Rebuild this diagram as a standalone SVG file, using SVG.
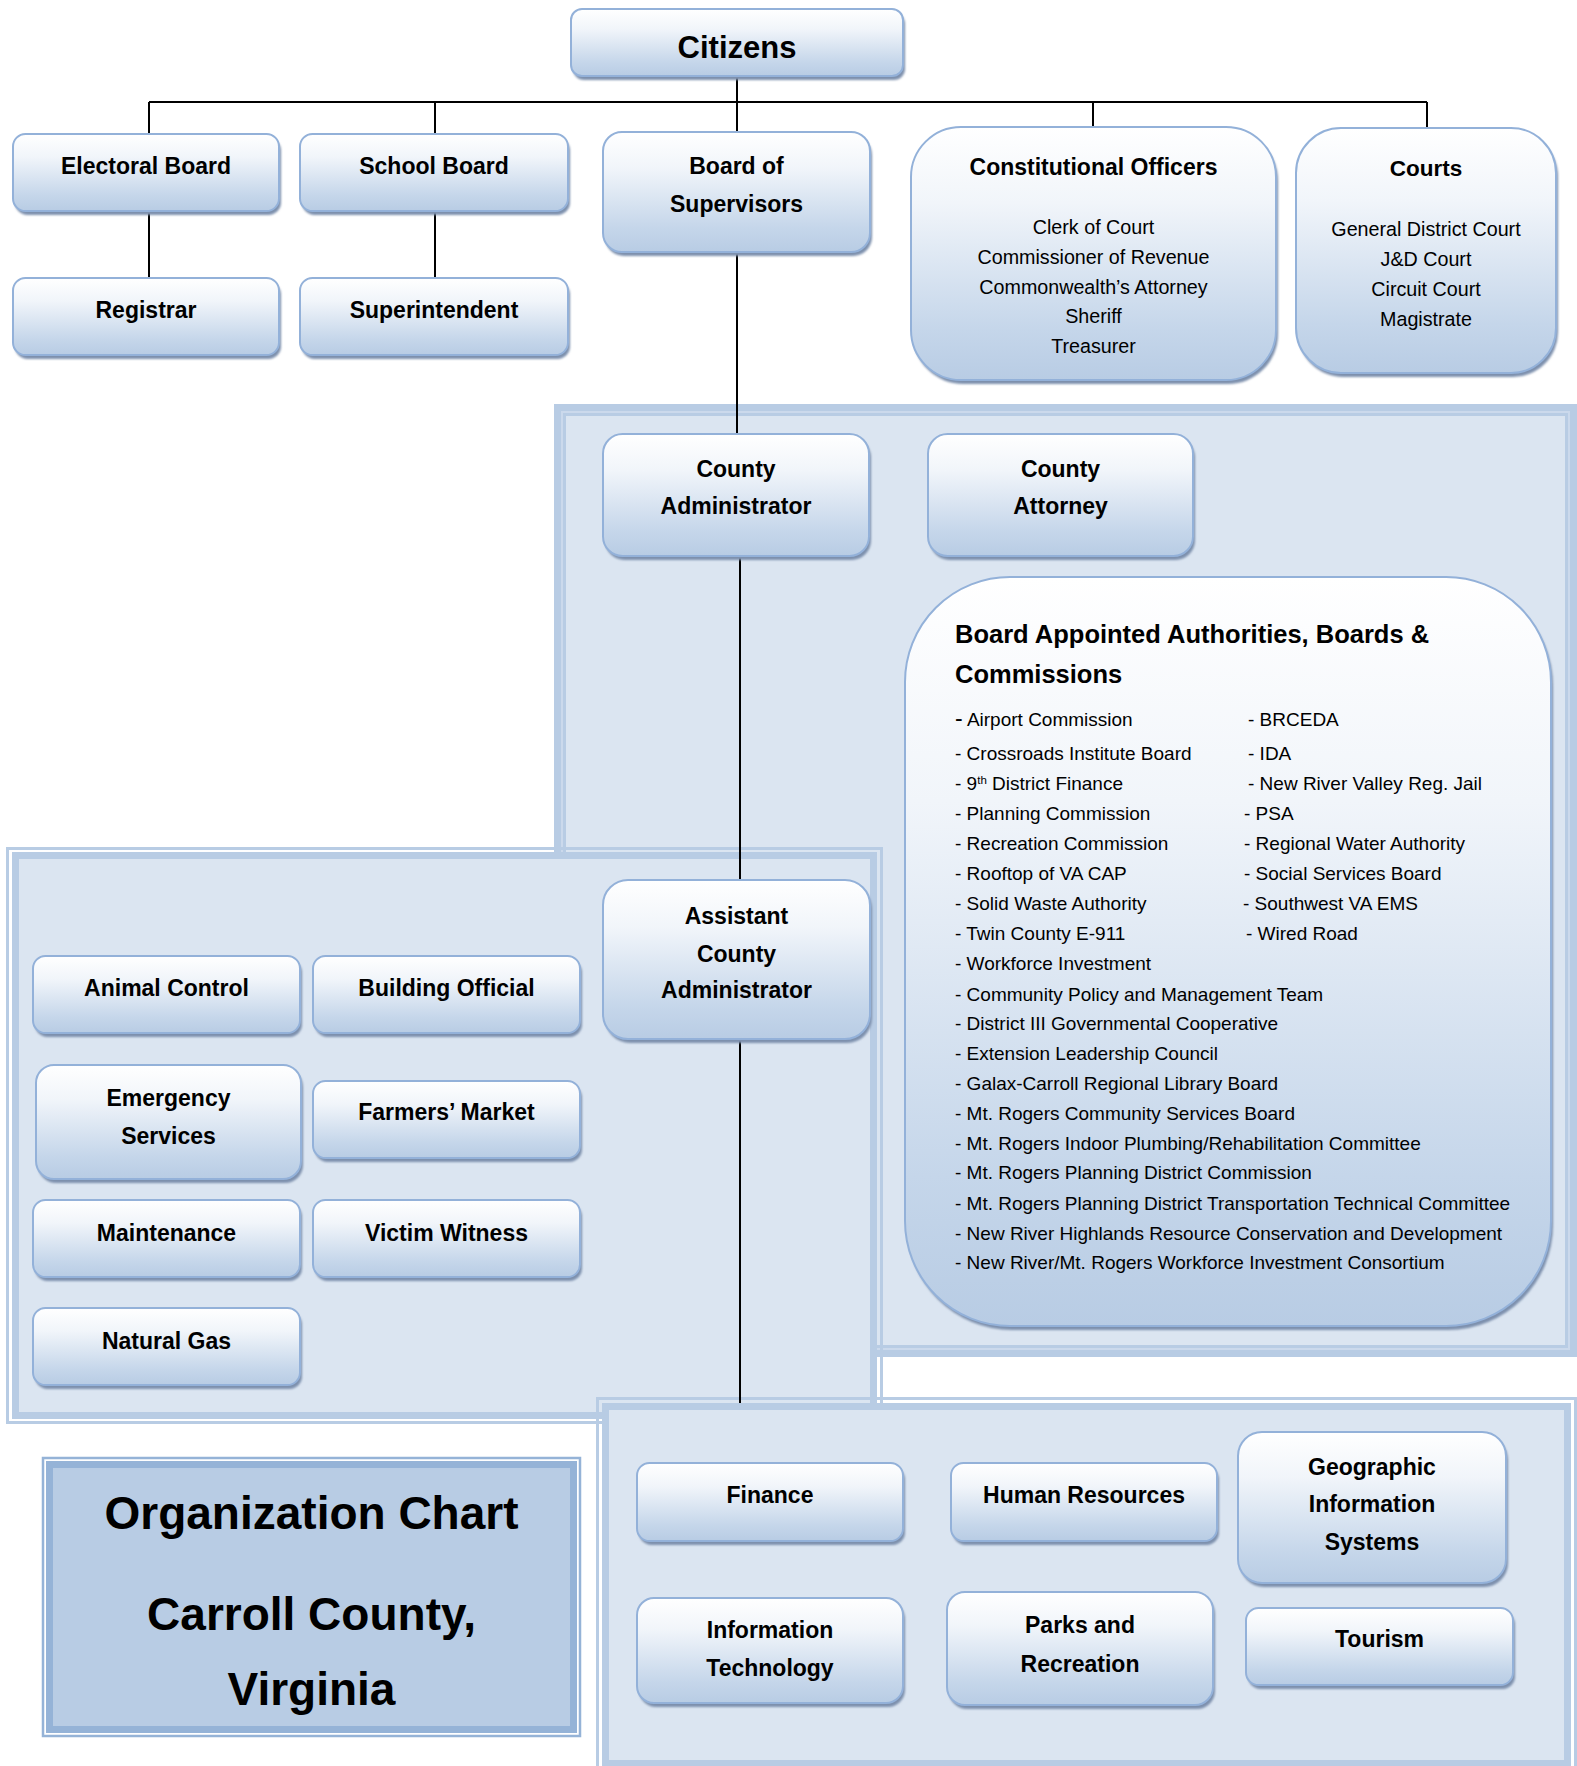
<svg xmlns="http://www.w3.org/2000/svg" width="1577" height="1766" viewBox="0 0 1577 1766">
<defs>
<linearGradient id="g" x1="0" y1="0" x2="0" y2="1">
<stop offset="0" stop-color="#ffffff"/>
<stop offset="0.3" stop-color="#f1f5fa"/>
<stop offset="0.8" stop-color="#c5d6ea"/>
<stop offset="1" stop-color="#b8cce4"/>
</linearGradient>
<filter id="blur" x="-5%" y="-5%" width="110%" height="110%"><feGaussianBlur stdDeviation="1.2"/></filter>
<style>
.bx{fill:url(#g);stroke:#93b1d9;stroke-width:2}
.sh{fill:#7d90ad;filter:url(#blur)}
text{font-family:"Liberation Sans",Arial,sans-serif;fill:#000}
.t{font-size:23px;font-weight:bold;text-anchor:middle}
.it{font-size:19.7px;text-anchor:middle}
.li{font-size:19px}
.conn{stroke:#000;stroke-width:2;fill:none}
</style>
</defs>
<rect width="1577" height="1766" fill="#ffffff"/>

<g id="panels">
<g id="panel-admin">
<rect x="554" y="404" width="1023" height="953" fill="#b8cce4"/>
<rect x="561" y="411" width="1009" height="939" fill="#cbd9ec"/>
<rect x="563" y="413" width="1005" height="935" fill="#b8cce4"/>
<rect x="566" y="416" width="999" height="929" fill="#dbe5f1"/>
</g>
<g id="panel-assistant">
<rect x="7.5" y="848.5" width="874" height="574" fill="none" stroke="#b8cce4" stroke-width="3"/>
<rect x="15.5" y="855.5" width="858" height="560" fill="#dbe5f1" stroke="#b8cce4" stroke-width="7"/>
</g>
<g id="panel-departments">
<rect x="597.5" y="1398.5" width="978" height="380" fill="none" stroke="#b8cce4" stroke-width="3"/>
<rect x="605.5" y="1406.5" width="962" height="357" fill="#dbe5f1" stroke="#b8cce4" stroke-width="7"/>
</g>
</g>

<g id="title">
<rect x="43" y="1458" width="537" height="278" fill="none" stroke="#95b3d7" stroke-width="2.5"/>
<rect x="49.5" y="1464.5" width="524" height="265" fill="#b8cce4" stroke="#95b3d7" stroke-width="7"/>
<text x="311.5" y="1529" font-size="46" font-weight="bold" text-anchor="middle">Organization Chart</text>
<text x="311.5" y="1630" font-size="46" font-weight="bold" text-anchor="middle">Carroll County,</text>
<text x="311.5" y="1705" font-size="46" font-weight="bold" text-anchor="middle">Virginia</text>
</g>

<g id="connectors" class="conn">
<path d="M737 76 V132"/>
<path d="M149 102 H1427"/>
<path d="M149 102 V134"/>
<path d="M435 102 V134"/>
<path d="M1093 102 V127"/>
<path d="M1427 102 V128"/>
<path d="M149 211 V278"/>
<path d="M435 211 V278"/>
<path d="M737 252 V434"/>
<path d="M740 556 V880"/>
<path d="M740 1039 V1403"/>
</g>

<g id="citizens">
<rect class="sh" x="573" y="13" width="332" height="67" rx="11"/>
<rect class="bx" x="571" y="9" width="332" height="67" rx="11"/>
<text x="737" y="58" font-size="31" font-weight="bold" text-anchor="middle">Citizens</text>
</g>

<g id="electoral-board">
<rect class="sh" x="15" y="138" width="266" height="77" rx="12.5"/>
<rect class="bx" x="13" y="134" width="266" height="77" rx="12.5"/>
<text class="t" x="146" y="174">Electoral Board</text>
</g>
<g id="school-board">
<rect class="sh" x="302" y="138" width="268" height="77" rx="12.5"/>
<rect class="bx" x="300" y="134" width="268" height="77" rx="12.5"/>
<text class="t" x="434" y="174">School Board</text>
</g>
<g id="registrar">
<rect class="sh" x="15" y="282" width="266" height="77" rx="12.5"/>
<rect class="bx" x="13" y="278" width="266" height="77" rx="12.5"/>
<text class="t" x="146" y="318">Registrar</text>
</g>
<g id="superintendent">
<rect class="sh" x="302" y="282" width="268" height="77" rx="12.5"/>
<rect class="bx" x="300" y="278" width="268" height="77" rx="12.5"/>
<text class="t" x="434" y="318">Superintendent</text>
</g>
<g id="board-of-supervisors">
<rect class="sh" x="605" y="136" width="267" height="120" rx="19"/>
<rect class="bx" x="603" y="132" width="267" height="120" rx="19"/>
<text class="t" x="736.5" y="174">Board of</text>
<text class="t" x="736.5" y="212">Supervisors</text>
</g>
<g id="constitutional-officers">
<rect class="sh" x="913" y="131" width="365" height="253" rx="50"/>
<rect class="bx" x="911" y="127" width="365" height="253" rx="50"/>
<text x="1093.5" y="175" font-size="23" font-weight="bold" text-anchor="middle">Constitutional Officers</text>
<text class="it" x="1093.5" y="234">Clerk of Court</text>
<text class="it" x="1093.5" y="264">Commissioner of Revenue</text>
<text class="it" x="1093.5" y="293.5">Commonwealth’s Attorney</text>
<text class="it" x="1093.5" y="323">Sheriff</text>
<text class="it" x="1093.5" y="353">Treasurer</text>
</g>
<g id="courts">
<rect class="sh" x="1298" y="132" width="260" height="245" rx="45"/>
<rect class="bx" x="1296" y="128" width="260" height="245" rx="45"/>
<text x="1426" y="176" font-size="22.5" font-weight="bold" text-anchor="middle">Courts</text>
<text class="it" x="1426" y="236">General District Court</text>
<text class="it" x="1426" y="266">J&amp;D Court</text>
<text class="it" x="1426" y="296">Circuit Court</text>
<text class="it" x="1426" y="326">Magistrate</text>
</g>

<g id="county-administrator">
<rect class="sh" x="605" y="438" width="266" height="122" rx="19.5"/>
<rect class="bx" x="603" y="434" width="266" height="122" rx="19.5"/>
<text class="t" x="736" y="477">County</text>
<text class="t" x="736" y="514">Administrator</text>
</g>
<g id="county-attorney">
<rect class="sh" x="930" y="438" width="265" height="122" rx="19.5"/>
<rect class="bx" x="928" y="434" width="265" height="122" rx="19.5"/>
<text class="t" x="1060.5" y="477">County</text>
<text class="t" x="1060.5" y="514">Attorney</text>
</g>

<g id="board-appointed">
<rect class="sh" x="907" y="581" width="646" height="749" rx="105"/>
<rect class="bx" x="905" y="577" width="646" height="749" rx="105" stroke-width="2.5"/>
<text x="955" y="643" font-size="25.5" font-weight="bold">Board Appointed Authorities, Boards &amp;</text>
<text x="955" y="683" font-size="25.5" font-weight="bold">Commissions</text>
<text class="li" x="955" y="726"><tspan font-size="23">-</tspan> Airport Commission</text>
<text class="li" x="955" y="760">- Crossroads Institute Board</text>
<text class="li" x="955" y="789.5">- 9<tspan font-size="11.5" baseline-shift="super">th</tspan> District Finance</text>
<text class="li" x="955" y="819.5">- Planning Commission</text>
<text class="li" x="955" y="849.5">- Recreation Commission</text>
<text class="li" x="955" y="880">- Rooftop of VA CAP</text>
<text class="li" x="955" y="909.5">- Solid Waste Authority</text>
<text class="li" x="955" y="939.5">- Twin County E-911</text>
<text class="li" x="955" y="969.5">- Workforce Investment</text>
<text class="li" x="955" y="1000.5">- Community Policy and Management Team</text>
<text class="li" x="955" y="1029.5">- District III Governmental Cooperative</text>
<text class="li" x="955" y="1059.5">- Extension Leadership Council</text>
<text class="li" x="955" y="1089.5">- Galax-Carroll Regional Library Board</text>
<text class="li" x="955" y="1119.5">- Mt. Rogers Community Services Board</text>
<text class="li" x="955" y="1149.5">- Mt. Rogers Indoor Plumbing/Rehabilitation Committee</text>
<text class="li" x="955" y="1178.5">- Mt. Rogers Planning District Commission</text>
<text class="li" x="955" y="1210">- Mt. Rogers Planning District Transportation Technical Committee</text>
<text class="li" x="955" y="1239.5">- New River Highlands Resource Conservation and Development</text>
<text class="li" x="955" y="1268.5">- New River/Mt. Rogers Workforce Investment Consortium</text>
<text class="li" x="1248" y="726">- BRCEDA</text>
<text class="li" x="1248" y="760">- IDA</text>
<text class="li" x="1248" y="789.5">- New River Valley Reg. Jail</text>
<text class="li" x="1244" y="819.5">- PSA</text>
<text class="li" x="1244" y="849.5">- Regional Water Authority</text>
<text class="li" x="1244" y="880">- Social Services Board</text>
<text class="li" x="1243" y="909.5">- Southwest VA EMS</text>
<text class="li" x="1246" y="939.5">- Wired Road</text>
</g>

<g id="assistant-county-administrator">
<rect class="sh" x="605" y="884" width="267" height="159" rx="25"/>
<rect class="bx" x="603" y="880" width="267" height="159" rx="25"/>
<text class="t" x="736.5" y="924">Assistant</text>
<text class="t" x="736.5" y="962">County</text>
<text class="t" x="736.5" y="998">Administrator</text>
</g>
<g id="animal-control">
<rect class="sh" x="35" y="960" width="267" height="77" rx="12.5"/>
<rect class="bx" x="33" y="956" width="267" height="77" rx="12.5"/>
<text class="t" x="166.5" y="996">Animal Control</text>
</g>
<g id="building-official">
<rect class="sh" x="315" y="960" width="267" height="77" rx="12.5"/>
<rect class="bx" x="313" y="956" width="267" height="77" rx="12.5"/>
<text class="t" x="446.5" y="996">Building Official</text>
</g>
<g id="emergency-services">
<rect class="sh" x="38" y="1069" width="265" height="114" rx="18"/>
<rect class="bx" x="36" y="1065" width="265" height="114" rx="18"/>
<text class="t" x="168.5" y="1106">Emergency</text>
<text class="t" x="168.5" y="1144">Services</text>
</g>
<g id="farmers-market">
<rect class="sh" x="315" y="1085" width="267" height="77" rx="12.5"/>
<rect class="bx" x="313" y="1081" width="267" height="77" rx="12.5"/>
<text class="t" x="446.5" y="1120">Farmers’ Market</text>
</g>
<g id="maintenance">
<rect class="sh" x="35" y="1204" width="267" height="77" rx="12.5"/>
<rect class="bx" x="33" y="1200" width="267" height="77" rx="12.5"/>
<text class="t" x="166.5" y="1241">Maintenance</text>
</g>
<g id="victim-witness">
<rect class="sh" x="315" y="1204" width="267" height="77" rx="12.5"/>
<rect class="bx" x="313" y="1200" width="267" height="77" rx="12.5"/>
<text class="t" x="446.5" y="1241">Victim Witness</text>
</g>
<g id="natural-gas">
<rect class="sh" x="35" y="1312" width="267" height="77" rx="12.5"/>
<rect class="bx" x="33" y="1308" width="267" height="77" rx="12.5"/>
<text class="t" x="166.5" y="1349">Natural Gas</text>
</g>

<g id="finance">
<rect class="sh" x="639" y="1467" width="266" height="78" rx="12.5"/>
<rect class="bx" x="637" y="1463" width="266" height="78" rx="12.5"/>
<text class="t" x="770" y="1503">Finance</text>
</g>
<g id="human-resources">
<rect class="sh" x="953" y="1467" width="266" height="78" rx="12.5"/>
<rect class="bx" x="951" y="1463" width="266" height="78" rx="12.5"/>
<text class="t" x="1084" y="1503">Human Resources</text>
</g>
<g id="gis">
<rect class="sh" x="1240" y="1436" width="268" height="151" rx="24"/>
<rect class="bx" x="1238" y="1432" width="268" height="151" rx="24"/>
<text class="t" x="1372" y="1475">Geographic</text>
<text class="t" x="1372" y="1512">Information</text>
<text class="t" x="1372" y="1550">Systems</text>
</g>
<g id="information-technology">
<rect class="sh" x="639" y="1602" width="266" height="105" rx="17"/>
<rect class="bx" x="637" y="1598" width="266" height="105" rx="17"/>
<text class="t" x="770" y="1638">Information</text>
<text class="t" x="770" y="1676">Technology</text>
</g>
<g id="parks-and-recreation">
<rect class="sh" x="949" y="1596" width="266" height="113" rx="18"/>
<rect class="bx" x="947" y="1592" width="266" height="113" rx="18"/>
<text class="t" x="1080" y="1633">Parks and</text>
<text class="t" x="1080" y="1672">Recreation</text>
</g>
<g id="tourism">
<rect class="sh" x="1248" y="1612" width="267" height="77" rx="12.5"/>
<rect class="bx" x="1246" y="1608" width="267" height="77" rx="12.5"/>
<text class="t" x="1379.5" y="1647">Tourism</text>
</g>
</svg>
